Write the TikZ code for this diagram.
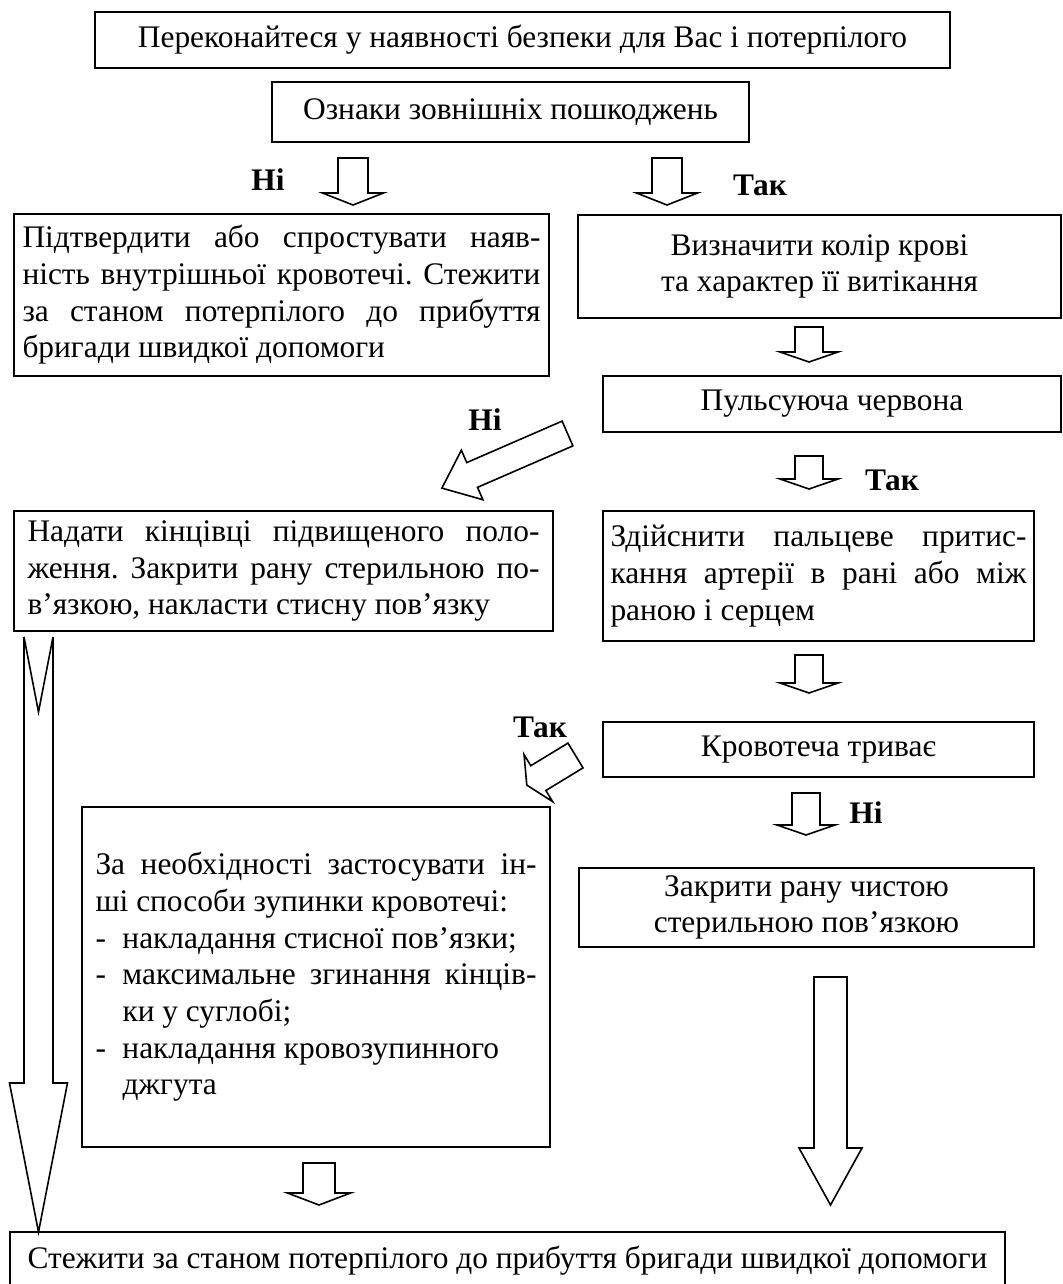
\documentclass[tikz,border=0pt]{standalone}
\usepackage{fontspec}
\setmainfont{Liberation Serif}
\setlength{\parindent}{0pt}
\frenchspacing

\tikzset{
  box/.style={draw, line width=1pt, inner sep=0pt, font=\fontsize{15.7}{18.35}\selectfont},
  para/.style={box, align=justify},
  yesno/.style={inner sep=0pt, font=\fontsize{15.7}{18}\selectfont\bfseries},
  pics/blockarrow/.style n args={5}{code={
    \draw[line width=0.8pt, fill=white] (0,#2) -- ({#1-#4},#2) -- ({#1-#4},#3) -- (#1,0)
      -- ({#1-#4},-#3) -- ({#1-#4},-#2) -- (0,-#2) -- (#5,0) -- cycle;
  }}
}

\begin{document}
\begin{tikzpicture}[x=0.5pt, y=-0.5pt]
  \useasboundingbox (0,0) rectangle (1063,1284);
  \clip (0,0) rectangle (1063,1284);

  % boxes
  \node[box, minimum width=427.5pt, minimum height=28pt] (safe) at (522.5,40)
    {Переконайтеся у наявності безпеки для Вас і потерпілого};
  \node[box, minimum width=238.5pt, minimum height=30pt] (sign) at (510.5,112)
    {Ознаки зовнішніх пошкоджень};
  \node[para, text width=259pt, minimum width=267.5pt, minimum height=81pt] (internal) at (281.5,295)
    {Підтвердити або спростувати наяв-\linebreak ність внутрішньої кровотечі. Стежити\linebreak
     за станом потерпілого до прибуття\linebreak бригади швидкої допомоги};
  \node[box, align=center, minimum width=241.5pt, minimum height=51.5pt] (colour) at (819.5,266.5)
    {Визначити колір крові\\ та характер її витікання};
  \node[box, minimum width=229pt, minimum height=28pt] (pulse) at (832,404)
    {Пульсуюча червона};
  \node[para, text width=256pt, minimum width=269.5pt, minimum height=60pt] (limb) at (283.5,571)
    {Надати кінцівці підвищеного поло-\linebreak ження. Закрити рану стерильною по-\linebreak
     в’язкою, накласти стисну пов’язку};
  \node[para, text width=208pt, minimum width=215.5pt, minimum height=65pt] (press) at (818.5,576)
    {\rightskip=9pt Здійснити пальцеве притис-\linebreak кання артерії в рані або між\linebreak
     раною і серцем};
  \node[box, minimum width=215.5pt, minimum height=27.5pt] (bleeds) at (818.5,749.5)
    {Кровотеча триває};
  \node[para, text width=220.5pt, minimum width=234pt, minimum height=170pt] (other) at (316,977)
    {За необхідності застосувати ін-\linebreak ші способи зупинки кровотечі:\par
     \hangindent=13.5pt\makebox[13.5pt][l]{-}накладання стисної пов’язки;\par
     \hangindent=13.5pt\makebox[13.5pt][l]{-}максимальне згинання кінців-\linebreak ки у суглобі;\par
     \hangindent=13.5pt\makebox[13.5pt][l]{-}накладання кровозупинного\newline джгута\par};
  \node[box, align=center, minimum width=227.5pt, minimum height=39.5pt] (close) at (806.5,907.5)
    {Закрити рану чистою\\ стерильною пов’язкою};
  \node[box, minimum width=497.5pt, minimum height=29pt] (watch) at (507.5,1261)
    {Стежити за станом потерпілого до прибуття бригади швидкої допомоги};

  % answers
  \node[yesno] (no1) at (268,180) {Ні};
  \node[yesno] (yes1) at (760,185) {Так};
  \node[yesno] (no2) at (485,420) {Ні};
  \node[yesno] (yes2) at (892,480) {Так};
  \node[yesno] (yes3) at (540,727) {Так};
  \node[yesno] (no3) at (866,813) {Ні};

  % block arrows
  \pic[rotate=-90] at (353,158) {blockarrow={47}{15}{30.5}{12}{0}};
  \pic[rotate=-90] at (667,158) {blockarrow={47}{15}{30.5}{12}{0}};
  \pic[rotate=-90] at (809,327) {blockarrow={35}{14}{29}{10}{0}};
  \pic[rotate=-90] at (809,456) {blockarrow={33}{14}{29}{10}{0}};
  \pic[rotate=-90] at (809,655) {blockarrow={38}{14}{29}{10}{0}};
  \pic[rotate=-90] at (806,793) {blockarrow={42}{14}{29}{10}{0}};
  \pic[rotate=-90] at (319,1163) {blockarrow={42}{16}{31.5}{12}{0}};
  \pic[rotate=-90] at (830.5,977) {blockarrow={228}{16.5}{31.5}{57}{0}};
  \pic[rotate=-90] at (38.5,637) {blockarrow={595}{14.5}{29}{149}{75}};
  \pic[rotate=203.5] at (567.5,433.5) {blockarrow={137}{13.5}{27}{33}{0}};
  \pic[rotate=211.3] at (575.5,755.5) {blockarrow={57}{14.5}{27.5}{13.5}{0}};
\end{tikzpicture}
\end{document}
